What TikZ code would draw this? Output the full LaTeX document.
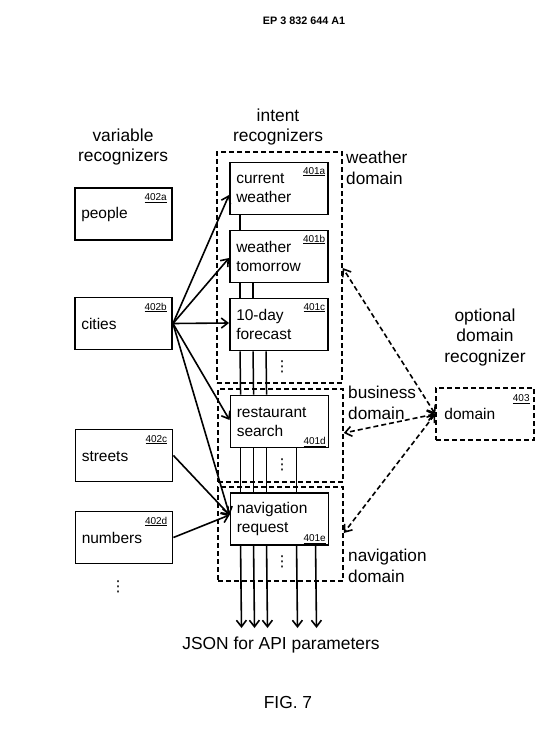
\documentclass[tikz,border=0pt]{standalone}
\usepackage{fontspec}
\setmainfont{Liberation Sans}
\newfontfamily\dvsans{DejaVu Sans}
\usetikzlibrary{arrows.meta,calc}
\begin{document}
\begin{tikzpicture}[x=1pt,y=-1pt,
  vbox/.style={draw,line width=1.9pt,minimum width=97pt,minimum height=52pt,inner sep=0pt},
  ibox/.style={draw,line width=1.9pt,minimum width=98pt,minimum height=52pt,inner sep=0pt,fill=white},
  dom/.style={draw,line width=1.6pt,dash pattern=on 5pt off 3pt,inner sep=0pt},
  btext/.style={font=\fontsize{15.5}{19}\selectfont,align=left,anchor=west,inner sep=0pt},
  head/.style={font=\fontsize{17.4}{20.5}\selectfont,align=center,inner sep=0pt},
  dlabel/.style={font=\fontsize{17.2}{20.5}\selectfont,align=left,anchor=west,inner sep=0pt},
  tag/.style={font=\fontsize{10}{12}\selectfont,inner sep=0pt},
  vline/.style={line width=1.5pt},
  arr/.style={line width=1.6pt,-{Straight Barb[length=6.5pt,width=10pt,line width=1.6pt]}},
  darr/.style={line width=1.6pt,dash pattern=on 5pt off 3pt,
    {Straight Barb[length=6.5pt,width=10pt,line width=1.6pt]}-{Straight Barb[length=6.5pt,width=10pt,line width=1.6pt]}},
  dots/.style={font=\dvsans\fontsize{15}{15}\selectfont,inner sep=0pt}
]
\useasboundingbox (0,0) rectangle (544,739);
\fill[white] (0,0) rectangle (544,739);

% header
\node[font=\fontsize{10.8}{12}\selectfont\bfseries,inner sep=0pt] (hdr) at (304,21) {EP 3 832 644 A1};

% headings
\node[head] (vrh) at (123,147) {variable\\recognizers};
\node[head] (irh) at (278,127) {intent\\recognizers};
\node[head] (odr) at (485,337) {optional\\domain\\recognizer};

% domain dashed boxes
\node[dom,minimum width=125pt,minimum height=231pt] (wd) at (279.5,267.5) {};
\node[dom,minimum width=125pt,minimum height=93pt] (bd) at (280.5,435.5) {};
\node[dom,minimum width=125pt,minimum height=94pt] (nd) at (280.5,534) {};

\node[dlabel] (wdl) at (346,168) {weather\\domain};
\node[dlabel] (bdl) at (348,403) {business\\domain};
\node[dlabel] (ndl) at (348,566) {navigation\\domain};

% intent box centres
\coordinate (cwc) at (279,188.5);
\coordinate (wtc) at (279,256.5);
\coordinate (fcc) at (279,324.5);
\coordinate (rsc) at (279.5,421.5);
\coordinate (nrc) at (279.5,519);

% invisible placeholders so the vertical lines lie under the boxes
\node[ibox,draw=none,fill=none] (cw0) at (cwc) {};
\node[ibox,draw=none,fill=none] (wt0) at (wtc) {};
\node[ibox,draw=none,fill=none] (fc0) at (fcc) {};
\node[ibox,draw=none,fill=none] (rs0) at (rsc) {};
\node[ibox,draw=none,fill=none] (nr0) at (nrc) {};

\draw[vline] ($(cw0.south west)+(11,0)$) -- ($(wt0.north west)+(11,0)$);
\foreach \dx in {11,24} {
  \draw[vline] ($(wt0.south west)+(\dx,0)$) -- ($(fc0.north west)+(\dx,0)$);
}
\foreach \dx in {11,24,37} {
  \draw[vline] ($(fc0.south west)+(\dx,0)$) -- ($(rs0.north west)+(\dx,0)$);
}
\foreach \dx in {11,24,37,67} {
  \draw[vline] ($(rs0.south west)+(\dx,0)$) -- ($(nr0.north west)+(\dx,0)$);
}
\coordinate (o1) at (241.5,628);
\coordinate (o2) at (254.5,628);
\coordinate (o3) at (267.5,628);
\coordinate (o4) at (297.5,628);
\coordinate (o5) at (316.5,628);
\draw[arr] ($(nr0.south west)+(11,0)$) -- (o1);
\draw[arr] ($(nr0.south west)+(24,0)$) -- (o2);
\draw[arr] ($(nr0.south west)+(37,0)$) -- (o3);
\draw[arr] ($(nr0.south west)+(67,0)$) -- (o4);
\draw[arr] ($(nr0.south west)+(86,0)$) -- (o5);

% intent boxes
\node[ibox] (cw) at (cwc) {};
\node[ibox] (wt) at (wtc) {};
\node[ibox] (fc) at (fcc) {};
\node[ibox] (rs) at (rsc) {};
\node[ibox] (nr) at (nrc) {};

\node[btext] (cwt) at ($(cw.west)+(7,0)$) {current\\weather};
\node[btext] (wtt) at ($(wt.west)+(7,0)$) {weather\\tomorrow};
\node[btext] (fct) at ($(fc.west)+(7,0)$) {10-day\\forecast};
\node[btext] (rst) at ($(rs.west)+(7,1)$) {restaurant\\search};
\node[btext] (nrt) at ($(nr.west)+(7,0)$) {navigation\\request};

\node[tag,anchor=base east] (cwg) at ($(cw.north east)+(-3.5,12.5)$) {\underline{401a}};
\node[tag,anchor=base east] (wtg) at ($(wt.north east)+(-3.5,12.5)$) {\underline{401b}};
\node[tag,anchor=base east] (fcg) at ($(fc.north east)+(-3.5,12.5)$) {\underline{401c}};
\node[tag,anchor=base east] (rsg) at ($(rs.south east)+(-3.5,-4)$) {\underline{401d}};
\node[tag,anchor=base east] (nrg) at ($(nr.south east)+(-3.5,-4)$) {\underline{401e}};

% dots
\node[dots] (d1) at (282,367) {⋮};
\node[dots] (d2) at (282,465) {⋮};
\node[dots] (d3) at (282,562) {⋮};
\node[dots] (d4) at (118,587) {⋮};

% variable boxes
\node[vbox] (pe) at (123.5,214) {};
\node[vbox] (ci) at (123.5,323.5) {};
\node[vbox] (st) at (124,455.5) {};
\node[vbox] (nu) at (124,537.5) {};

\node[btext] (pet) at ($(pe.west)+(7,0)$) {people};
\node[btext] (cit) at ($(ci.west)+(7,0)$) {cities};
\node[btext] (stt) at ($(st.west)+(7,1)$) {streets};
\node[btext] (nut) at ($(nu.west)+(7,0)$) {numbers};

\node[tag,anchor=base east] (peg) at ($(pe.north east)+(-6,13.5)$) {\underline{402a}};
\node[tag,anchor=base east] (cig) at ($(ci.north east)+(-6,13.5)$) {\underline{402b}};
\node[tag,anchor=base east] (stg) at ($(st.north east)+(-6,13.5)$) {\underline{402c}};
\node[tag,anchor=base east] (nug) at ($(nu.north east)+(-6,13.5)$) {\underline{402d}};

% arrows from variable recognizers
\draw[arr] (ci.east) -- ($(cw.west)+(0,6.5)$);
\draw[arr] (ci.east) -- ($(wt.west)+(0,1.5)$);
\draw[arr] (ci.east) -- ($(fc.west)+(0,-1.5)$);
\draw[arr] (ci.east) -- ($(rs.west)+(0,-1.5)$);
\draw[arr] (ci.east) -- ($(nr.west)+(0,-4)$);
\draw[arr] (st.east) -- ($(nr.west)+(0,-4)$);
\draw[arr] (nu.east) -- ($(nr.west)+(0,-4)$);

% optional domain recognizer
\node[dom,minimum width=98pt,minimum height=52pt] (dm) at (485,414) {};
\node[btext] (dmt) at ($(dm.west)+(9,0)$) {domain};
\node[tag,anchor=base east] (dmg) at ($(dm.north east)+(-5,14.5)$) {\underline{403}};

\draw[darr] (dm.west) -- ($(wd.east)+(0,0.5)$);
\draw[darr] (dm.west) -- ($(bd.east)+(0,-2.5)$);
\draw[darr] (dm.west) -- ($(nd.east)+(0,-1)$);

% bottom texts
\node[head] (json) at (281,645) {JSON for API parameters};
\node[head] (fig) at (288,703) {FIG. 7};
\end{tikzpicture}
\end{document}
